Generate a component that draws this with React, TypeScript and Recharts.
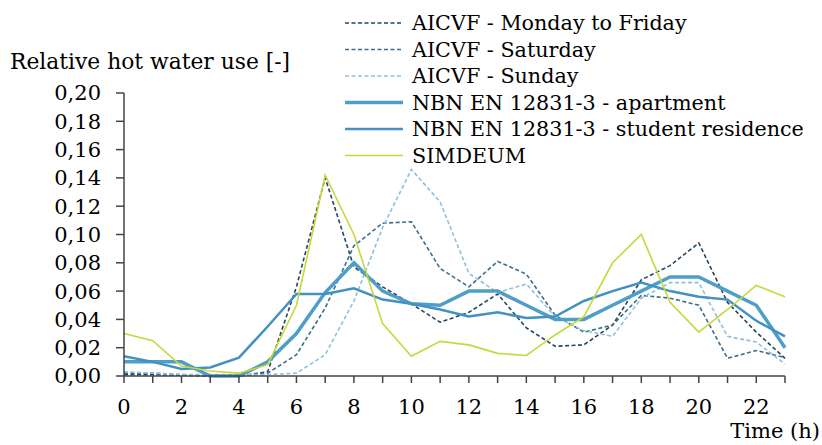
import { CartesianGrid, Legend, Line, LineChart, XAxis, YAxis } from "recharts";

const hours = [0, 1, 2, 3, 4, 5, 6, 7, 8, 9, 10, 11, 12, 13, 14, 15, 16, 17, 18, 19, 20, 21, 22, 23];

const aicvfWeek = [0.001, 0.001, 0.0005, 0, 0, 0.003, 0.063, 0.14, 0.077, 0.063, 0.051, 0.038, 0.045, 0.058, 0.034, 0.021, 0.022, 0.036, 0.068, 0.078, 0.094, 0.052, 0.031, 0.0125];
const aicvfSaturday = [0.002, 0.002, 0.001, 0, 0, 0.002, 0.015, 0.048, 0.092, 0.108, 0.109, 0.076, 0.063, 0.081, 0.072, 0.043, 0.031, 0.036, 0.057, 0.055, 0.05, 0.0125, 0.018, 0.013];
const aicvfSunday = [0.003, 0.002, 0.001, 0.001, 0.001, 0.001, 0.002, 0.015, 0.053, 0.105, 0.146, 0.123, 0.0725, 0.059, 0.065, 0.042, 0.032, 0.028, 0.055, 0.066, 0.066, 0.028, 0.024, 0.0085];
const nbnApartment = [0.01, 0.01, 0.01, 0, 0, 0.01, 0.03, 0.059, 0.08, 0.06, 0.051, 0.05, 0.06, 0.06, 0.05, 0.04, 0.04, 0.05, 0.06, 0.07, 0.07, 0.06, 0.05, 0.02];
const nbnStudent = [0.014, 0.01, 0.005, 0.006, 0.013, 0.035, 0.058, 0.058, 0.062, 0.054, 0.051, 0.047, 0.042, 0.045, 0.041, 0.042, 0.053, 0.06, 0.066, 0.06, 0.056, 0.054, 0.039, 0.028];
const simdeum = [0.03, 0.025, 0.007, 0.0035, 0.002, 0.008, 0.05, 0.142, 0.1, 0.037, 0.014, 0.0245, 0.022, 0.016, 0.0145, 0.029, 0.042, 0.08, 0.1, 0.052, 0.031, 0.047, 0.064, 0.056];

const yTicks = [0, 0.02, 0.04, 0.06, 0.08, 0.1, 0.12, 0.14, 0.16, 0.18, 0.2];

const FONT = "'DejaVu Serif', serif";

const series = [
  { key: "week", name: "AICVF - Monday to Friday", color: "#24465f", width: 1.6, dash: "4 2.5" },
  { key: "sat", name: "AICVF - Saturday", color: "#3a6d8f", width: 1.6, dash: "4 2.5" },
  { key: "sun", name: "AICVF - Sunday", color: "#8fc0de", width: 1.6, dash: "4 2.5" },
  { key: "apt", name: "NBN EN 12831-3 - apartment", color: "#4f9ec9", width: 3.5, dash: undefined },
  { key: "student", name: "NBN EN 12831-3 - student residence", color: "#4391c0", width: 2.5, dash: undefined },
  { key: "simdeum", name: "SIMDEUM", color: "#c6d83a", width: 1.6, dash: undefined },
];

const data = hours.map((h, i) => ({
  hour: h,
  week: aicvfWeek[i],
  sat: aicvfSaturday[i],
  sun: aicvfSunday[i],
  apt: nbnApartment[i],
  student: nbnStudent[i],
  simdeum: simdeum[i],
}));

function LegendBox() {
  return (
    <svg width={480} height={170}>
      {series.map((s, i) => {
        const y = 23 + i * 26.5;
        return (
          <g key={s.key}>
            <line x1={5} x2={63} y1={y} y2={y} stroke={s.color} strokeWidth={s.width} strokeDasharray={s.dash} />
            <text x={72} y={y} dy="0.35em" fontSize={20.7} fontFamily={FONT} fill="#000">
              {s.name}
            </text>
          </g>
        );
      })}
    </svg>
  );
}

export default function App() {
  return (
    <div style={{ position: "absolute", left: 0, top: 0, width: 822, height: 445, background: "#fff" }}>
      <LineChart width={822} height={445} data={data} margin={{ top: 93, right: 37, bottom: 0, left: 0 }}>
        <CartesianGrid stroke="none" />
        <XAxis
          dataKey="hour"
          type="number"
          domain={[0, 23]}
          ticks={hours}
          interval={0}
          height={69}
          tickFormatter={(v: number) => (v % 2 === 0 && v < 23 ? String(v) : "")}
          tick={{ fontSize: 21, fill: "#000", fontFamily: FONT }}
          tickSize={7}
          tickMargin={16}
          stroke="#444"
          strokeWidth={1.5}
        />
        <YAxis
          type="number"
          domain={[0, 0.2]}
          ticks={yTicks}
          interval={0}
          width={124}
          tickFormatter={(v: number) => v.toFixed(2).replace(".", ",")}
          tick={{ fontSize: 21, fill: "#000", fontFamily: FONT }}
          tickSize={8}
          tickMargin={15}
          stroke="#444"
          strokeWidth={1.5}
        />
        <Legend
          layout="vertical"
          align="center"
          verticalAlign="middle"
          wrapperStyle={{ top: 0, left: 340, width: 482 }}
          content={() => <LegendBox />}
        />
        {series.map((s) => (
          <Line
            key={s.key}
            dataKey={s.key}
            name={s.name}
            stroke={s.color}
            strokeWidth={s.width}
            strokeDasharray={s.dash}
            dot={false}
            activeDot={false}
            type="linear"
            isAnimationActive={false}
          />
        ))}
      </LineChart>
      <div style={{ position: "absolute", left: 10, top: 49, fontSize: 21.8, fontFamily: FONT, whiteSpace: "nowrap" }}>
        Relative hot water use [-]
      </div>
      <div style={{ position: "absolute", right: 2, top: 419, fontSize: 21, fontFamily: FONT, whiteSpace: "nowrap" }}>
        Time (h)
      </div>
    </div>
  );
}
